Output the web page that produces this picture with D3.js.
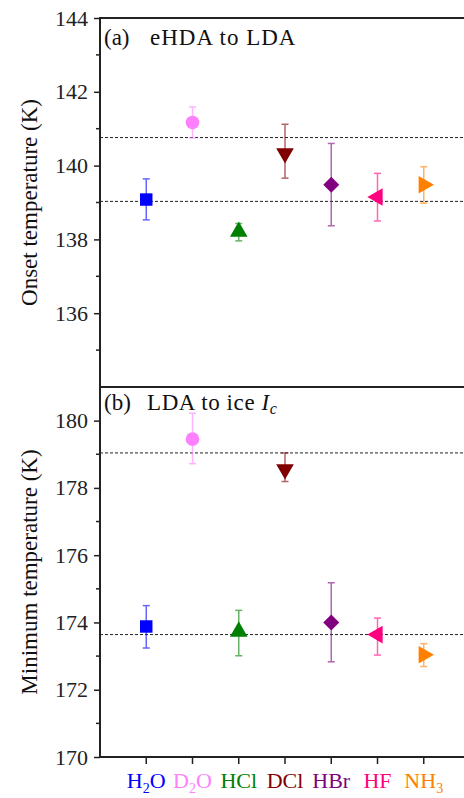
<!DOCTYPE html>
<html>
<head>
<meta charset="utf-8">
<script src="https://cdn.jsdelivr.net/npm/d3@7"></script>
<style>
  body { margin: 0; background: #fff; }
  svg { display: block; font-family: "Liberation Serif", "DejaVu Serif", serif; }
</style>
</head>
<body>
<svg id="chart" width="464" height="798"></svg>
<script>
// categories and their colours / marker shapes
const species = ['H2O', 'D2O', 'HCl', 'DCl', 'HBr', 'HF', 'NH3'];
const labelMain = ['H', 'D', 'HCl', 'DCl', 'HBr', 'HF', 'NH'];
const labelSub = ['2', '2', '', '', '', '', '3'];
const labelTail = ['O', 'O', '', '', '', '', ''];
const colors = ['#0000ff', '#ff80ff', '#008000', '#800000', '#800080', '#ff0080', '#ff8000'];
const shapes = ['square', 'circle', 'up', 'down', 'diamond', 'left', 'right'];

// (a) onset temperature eHDA -> LDA
const onsetVal = [139.08, 141.17, 138.21, 140.33, 139.48, 139.15, 139.48];
const onsetLo  = [138.53, 140.75, 137.96, 139.66, 138.37, 138.50, 138.98];
const onsetHi  = [139.64, 141.59, 138.43, 141.12, 140.60, 139.79, 139.97];
const onsetRefs = [140.76, 139.03];

// (b) minimum temperature LDA -> ice Ic
const minVal = [173.88, 179.45, 173.73, 178.55, 174.00, 173.64, 173.04];
const minLo  = [173.24, 178.72, 173.01, 178.19, 172.83, 173.03, 172.69];
const minHi  = [174.50, 180.22, 174.36, 179.04, 175.18, 174.13, 173.37];
const minRefs = [179.04, 173.64];

const onsetTicks = [136, 138, 140, 142, 144];
const minTicks = [170, 172, 174, 176, 178, 180];

const svg = d3.select('#chart');
const left = 100, right = 470;
const x = d3.scaleLinear().domain([0, 8]).range([left, right]);

const panels = [
  { y: d3.scaleLinear().domain([134, 144]).range([387, 18]), val: onsetVal, lo: onsetLo, hi: onsetHi,
    refs: onsetRefs, ticks: onsetTicks, minor: d3.range(135, 144, 2), title: 'Onset temperature (K)' },
  { y: d3.scaleLinear().domain([170, 181]).range([757, 387]), val: minVal, lo: minLo, hi: minHi,
    refs: minRefs, ticks: minTicks, minor: d3.range(171, 181, 2), title: 'Minimum temperature (K)' }
];

const tri = d3.symbol().type(d3.symbolTriangle).size(135);
const shapeOf = s => {
  if (s === 'square') return { d: d3.symbol().type(d3.symbolSquare).size(155)(), rot: 0 };
  if (s === 'circle') return { d: d3.symbol().type(d3.symbolCircle).size(145)(), rot: 0 };
  if (s === 'diamond') return { d: d3.symbol().type(d3.symbolSquare).size(128)(), rot: 45 };
  const rot = { up: 0, down: 180, left: -90, right: 90 }[s];
  return { d: tri(), rot: rot };
};

panels.forEach(p => {
  const g = svg.append('g');
  const [y0, y1] = p.y.range();

  // dashed reference lines
  g.selectAll('.ref').data(p.refs).join('line')
    .attr('x1', left).attr('x2', 464)
    .attr('y1', d => p.y(d)).attr('y2', d => p.y(d))
    .attr('stroke', '#222').attr('stroke-width', 1)
    .attr('stroke-dasharray', '3,2');

  // y axis
  const axis = g.append('g').attr('transform', `translate(${left},0)`)
    .call(d3.axisLeft(p.y).tickValues(p.ticks).tickSize(6).tickPadding(6).tickFormat(d3.format('d')));
  axis.select('.domain').remove();
  axis.selectAll('line').attr('stroke', '#222').attr('stroke-width', 1.5);
  axis.selectAll('text').attr('font-size', 22).attr('fill', '#222')
    .attr('font-family', '"Liberation Serif", serif');
  g.selectAll('.minor').data(p.minor).join('line')
    .attr('x1', left - 4).attr('x2', left)
    .attr('y1', d => p.y(d)).attr('y2', d => p.y(d))
    .attr('stroke', '#222').attr('stroke-width', 1.5);

  // top frame line
  g.append('line').attr('x1', left - 1).attr('x2', 464).attr('y1', y1).attr('y2', y1)
    .attr('stroke', '#222').attr('stroke-width', 2);

  // axis title
  g.append('text')
    .attr('transform', `translate(37,${(y0 + y1) / 2}) rotate(-90)`)
    .attr('text-anchor', 'middle')
    .attr('font-size', 23).attr('fill', '#111')
    .text(p.title);

  // error bars
  const bars = g.selectAll('.err').data(species).join('g').attr('opacity', 0.6);
  bars.append('line')
    .attr('x1', (d, i) => x(i + 1)).attr('x2', (d, i) => x(i + 1))
    .attr('y1', (d, i) => p.y(p.lo[i])).attr('y2', (d, i) => p.y(p.hi[i]))
    .attr('stroke', (d, i) => colors[i]).attr('stroke-width', 1.5);
  ['lo', 'hi'].forEach(k => {
    bars.append('line')
      .attr('x1', (d, i) => x(i + 1) - 3.5).attr('x2', (d, i) => x(i + 1) + 3.5)
      .attr('y1', (d, i) => p.y(p[k][i])).attr('y2', (d, i) => p.y(p[k][i]))
      .attr('stroke', (d, i) => colors[i]).attr('stroke-width', 1.5);
  });

  // markers
  g.selectAll('.mark').data(species).join('path')
    .attr('d', (d, i) => shapeOf(shapes[i]).d)
    .attr('transform', (d, i) => `translate(${x(i + 1)},${p.y(p.val[i])}) rotate(${shapeOf(shapes[i]).rot})`)
    .attr('fill', (d, i) => colors[i]);
});

// left axis spine and bottom axis
svg.append('line').attr('x1', left).attr('x2', left).attr('y1', 17).attr('y2', 758)
  .attr('stroke', '#222').attr('stroke-width', 2);
svg.append('line').attr('x1', left - 1).attr('x2', 464).attr('y1', 757).attr('y2', 757)
  .attr('stroke', '#222').attr('stroke-width', 2);
svg.selectAll('.xtick').data(species).join('line')
  .attr('x1', (d, i) => x(i + 1)).attr('x2', (d, i) => x(i + 1))
  .attr('y1', 757).attr('y2', 764)
  .attr('stroke', '#222').attr('stroke-width', 1.5);

// category labels with subscripts
const lab = svg.selectAll('.xlab').data(species).join('text')
  .attr('x', (d, i) => x(i + 1)).attr('y', 788)
  .attr('text-anchor', 'middle')
  .attr('font-size', 22)
  .attr('fill', (d, i) => colors[i]);
lab.append('tspan').text((d, i) => labelMain[i]);
lab.append('tspan').attr('font-size', 14).attr('dy', 5).text((d, i) => labelSub[i]);
lab.append('tspan').attr('dy', -5).text((d, i) => labelTail[i]);

// panel labels
svg.append('text').attr('x', 104).attr('y', 45).attr('font-size', 23).attr('fill', '#111')
  .text('(a)');
svg.append('text').attr('x', 150).attr('y', 45).attr('font-size', 23).attr('fill', '#111')
  .attr('letter-spacing', 1).text('eHDA to LDA');
svg.append('text').attr('x', 104).attr('y', 410).attr('font-size', 23).attr('fill', '#111')
  .text('(b)');
const pb = svg.append('text').attr('x', 147).attr('y', 410).attr('font-size', 23).attr('fill', '#111')
  .attr('letter-spacing', 0.6);
pb.append('tspan').text('LDA to ice ');
pb.append('tspan').attr('font-style', 'italic').text('I');
pb.append('tspan').attr('font-style', 'italic').attr('font-size', 16).attr('dy', 4).text('c');
</script>
</body>
</html>
